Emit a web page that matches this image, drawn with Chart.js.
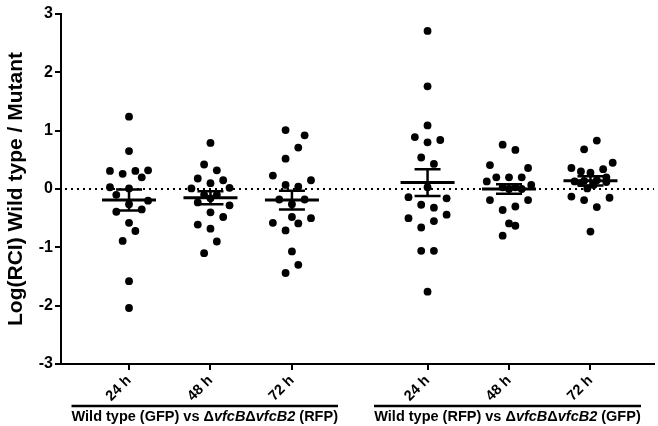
<!DOCTYPE html>
<html>
<head>
<meta charset="utf-8">
<script src="https://cdn.jsdelivr.net/npm/chart.js@4.4.0/dist/chart.umd.min.js"></script>
<style>
html, body { margin: 0; padding: 0; background: #fff; }
#wrap { width: 658px; height: 426px; }
</style>
</head>
<body>
<div id="wrap"><canvas id="mycanvas"></canvas></div>
<script>
// categories (time points) for both comparisons
var categories = ['24 h', '48 h', '72 h', '24 h', '48 h', '72 h'];
var yTicks = [-3, -2, -1, 0, 1, 2, 3];

// Wild type (GFP) vs dvfcBdvfcB2 (RFP)
var gfp24 = [1.24, 0.65, 0.31, 0.26, 0.31, 0.32, 0.20, 0.03, 0.01, -0.10, -0.20, -0.26, -0.35, -0.39, -0.58, -0.72, -0.89, -1.58, -2.04];
var gfp48 = [0.79, 0.42, 0.32, 0.18, 0.15, 0.10, 0.01, 0.02, -0.10, -0.10, -0.16, -0.23, -0.28, -0.40, -0.48, -0.61, -0.68, -0.90, -1.10];
var gfp72 = [1.01, 0.92, 0.71, 0.52, 0.23, 0.15, 0.07, 0.04, -0.18, -0.18, -0.26, -0.48, -0.50, -0.58, -0.59, -0.71, -1.07, -1.30, -1.44];
// Wild type (RFP) vs dvfcBdvfcB2 (GFP)
var rfp24 = [2.71, 1.76, 1.09, 0.89, 0.80, 0.84, 0.54, 0.43, 0.03, -0.14, -0.16, -0.27, -0.32, -0.44, -0.50, -0.55, -0.66, -1.06, -1.06, -1.76];
var rfp48 = [0.76, 0.67, 0.41, 0.36, 0.20, 0.20, 0.20, 0.13, 0.07, 0.03, 0.03, 0.00, 0.00, -0.19, -0.19, -0.36, -0.30, -0.59, -0.63, -0.80];
var rfp72 = [0.83, 0.68, 0.45, 0.36, 0.34, 0.30, 0.28, 0.20, 0.13, 0.14, 0.15, 0.10, 0.07, 0.12, 0.01, -0.13, -0.19, -0.15, -0.31, -0.73];

// mean and SEM of each column
var means = [-0.19, -0.15, -0.19, 0.11, 0.00, 0.14];
var sems = [0.18, 0.11, 0.16, 0.23, 0.08, 0.08];

// jitter slot of every point inside its column (scatter spread)
var jit1 = [0, 0, -3, -1, 1, 3, 2, -3, 0, -2, 3, 0, 2, -2, 0, 1, -1, 0, 0];
var jit2 = [0, -1, 1, -2, 2, 0, -3, 3, -1, 1, 0, -2, 3, 0, 2, -2, 0, 1, -1];
var jit3 = [-1, 2, 1, -1, -3, 3, -1, 1, -2, 2, 0, 0, 3, -3, 1, -1, 0, 1, -1];
var jit4 = [0, 0, 0, -2, 0, 2, -1, 1, 0, -3, 3, -1, 1, 3, -3, 1, -1, -1, 1, 0];
var jit5 = [-1, 1, -3, 3, -2, 0, 2, -3.5, 3.5, -1, 1, 0, 2, -3, 3, -1, 1, 0, 1, -1];
var jit6 = [1, -1, 3.5, -3, 2, -1.5, 0, 2.5, -2.5, -1, 1, -1.5, 0.5, 2.5, -0.5, -3, -1, 3, 1, 0];

var groupText1 = [['Wild type (GFP) vs \u0394', false], ['vfcB', true], ['\u0394', false], ['vfcB2', true], [' (RFP)', false]];
var groupText2 = [['Wild type (RFP) vs \u0394', false], ['vfcB', true], ['\u0394', false], ['vfcB2', true], [' (GFP)', false]];

var colX = [1, 2, 3, 4.665, 5.665, 6.665];
var slotW = 0.078;
var columns = [gfp24, gfp48, gfp72, rfp24, rfp48, rfp72];
var slots = [jit1, jit2, jit3, jit4, jit5, jit6];

var datasets = [];
for (var c in columns) {
	var pts = [];
	for (var k in columns[c]) {
		pts.push({x: colX[c] + slots[c][k] * slotW, y: columns[c][k]});
	}
	datasets.push({
		data: pts,
		backgroundColor: '#000',
		borderWidth: 0,
		pointRadius: 3.9
	});
}

var extras = {
	id: 'extras',
	beforeDatasetsDraw: function(chart) {
		var ctx = chart.ctx, a = chart.chartArea;
		var y0 = chart.scales.y.getPixelForValue(0);
		ctx.save();
		ctx.strokeStyle = '#000';
		ctx.lineWidth = 2;
		ctx.setLineDash([2, 4]);
		ctx.beginPath();
		ctx.moveTo(a.left + 4, y0);
		ctx.lineTo(a.right, y0);
		ctx.stroke();
		ctx.restore();
	},
	afterDatasetsDraw: function(chart) {
		var ctx = chart.ctx, xs = chart.scales.x, ys = chart.scales.y;
		ctx.save();
		ctx.strokeStyle = '#000';
		for (var i = 0; i < means.length; i++) {
			var cx = xs.getPixelForValue(colX[i]);
			var ym = ys.getPixelForValue(means[i]);
			var yt = ys.getPixelForValue(means[i] + sems[i]);
			var yb = ys.getPixelForValue(means[i] - sems[i]);
			ctx.lineWidth = 3;
			ctx.beginPath();
			ctx.moveTo(cx - 27, ym); ctx.lineTo(cx + 27, ym);
			ctx.stroke();
			ctx.lineWidth = 2.5;
			ctx.beginPath();
			ctx.moveTo(cx, yt); ctx.lineTo(cx, yb);
			ctx.moveTo(cx - 13, yt); ctx.lineTo(cx + 13, yt);
			ctx.moveTo(cx - 13, yb); ctx.lineTo(cx + 13, yb);
			ctx.stroke();
		}
		ctx.restore();
	},
	afterDraw: function(chart) {
		var ctx = chart.ctx;
		var groups = [[71.5, 338, groupText1], [374, 641, groupText2]];
		ctx.save();
		ctx.fillStyle = '#000';
		ctx.strokeStyle = '#000';
		ctx.textBaseline = 'middle';
		for (var g = 0; g < groups.length; g++) {
			var x1 = groups[g][0], x2 = groups[g][1], parts = groups[g][2];
			ctx.lineWidth = 2.5;
			ctx.beginPath();
			ctx.moveTo(x1, 406); ctx.lineTo(x2, 406);
			ctx.stroke();
			var total = 0;
			for (var p = 0; p < parts.length; p++) {
				ctx.font = (parts[p][1] ? 'italic ' : '') + 'bold 14.5px "Liberation Sans", Arial, sans-serif';
				total += ctx.measureText(parts[p][0]).width;
			}
			var x = (x1 + x2) / 2 - total / 2;
			for (var p = 0; p < parts.length; p++) {
				ctx.font = (parts[p][1] ? 'italic ' : '') + 'bold 14.5px "Liberation Sans", Arial, sans-serif';
				ctx.fillText(parts[p][0], x, 417);
				x += ctx.measureText(parts[p][0]).width;
			}
		}
		ctx.restore();
	}
};

var ctx = document.getElementById('mycanvas');
var chart = new Chart(ctx, {
	type: 'scatter',
	data: {datasets: datasets},
	options: {
		responsive: true,
		maintainAspectRatio: false,
		animation: false,
		layout: {padding: {top: 14, right: 0, left: 0, bottom: 0}},
		plugins: {legend: {display: false}, tooltip: {enabled: false}},
		scales: {
			x: {
				type: 'linear',
				min: 0.165,
				max: 7.445,
				afterBuildTicks: function(scale) {
					scale.ticks = colX.map(function(v) { return {value: v}; });
				},
				afterFit: function(scale) { scale.height = 62; },
				ticks: {
					autoSkip: false,
					minRotation: 45,
					maxRotation: 45,
					color: '#000',
					padding: 2,
					font: {family: '"Liberation Sans", Arial, sans-serif', size: 14.5, weight: 'bold'},
					callback: function(v, i) { return categories[i]; }
				},
				grid: {drawOnChartArea: false, drawTicks: true, tickLength: 6, color: '#000', lineWidth: 2},
				border: {color: '#000', width: 2}
			},
			y: {
				min: -3,
				max: 3,
				afterBuildTicks: function(scale) {
					scale.ticks = yTicks.map(function(v) { return {value: v}; });
				},
				afterFit: function(scale) { scale.width = 61; },
				ticks: {
					color: '#000',
					padding: 2,
					font: {family: '"Liberation Sans", Arial, sans-serif', size: 16, weight: 'bold'}
				},
				grid: {drawOnChartArea: false, drawTicks: true, tickLength: 6, color: '#000', lineWidth: 2},
				border: {color: '#000', width: 2},
				title: {
					display: true,
					text: 'Log(RCI) Wild type / Mutant',
					color: '#000',
					padding: {top: 4, bottom: 0},
					font: {family: '"Liberation Sans", Arial, sans-serif', size: 21, weight: 'bold'}
				}
			}
		}
	},
	plugins: [extras]
});
</script>
</body>
</html>
